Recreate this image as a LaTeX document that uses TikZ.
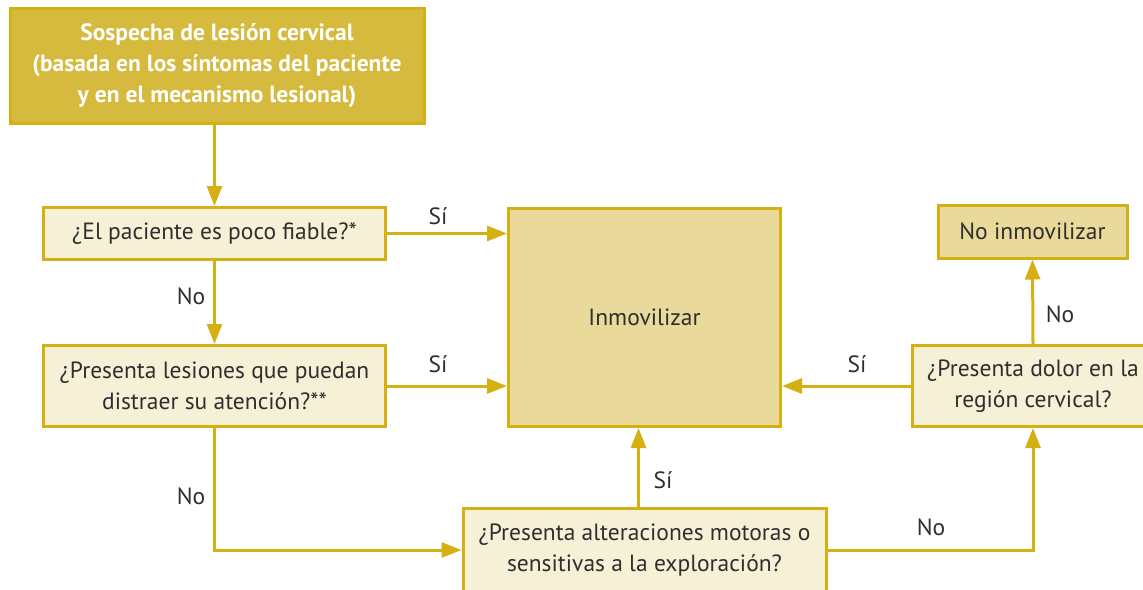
\documentclass[tikz,border=0pt]{standalone}
\usepackage{fontspec}
\setmainfont{PT Sans}
\usetikzlibrary{arrows.meta}
\definecolor{gold}{HTML}{D4B012}
\definecolor{topfill}{HTML}{D5BA3E}
\definecolor{lightfill}{HTML}{F6F0D6}
\definecolor{midfill}{HTML}{E9DA9C}
\definecolor{txt}{HTML}{2E2E2E}
\tikzset{
  box/.style={draw=gold, line width=3pt, inner sep=0pt, align=center, text=txt,
    font=\fontsize{23.5}{31}\selectfont},
  qbox/.style={box, fill=lightfill},
  arr/.style={draw=gold, line width=3pt, -{Triangle[length=20pt,width=15pt]}},
  lbl/.style={text=txt, font=\fontsize{23.5}{26}\selectfont, inner sep=0pt}
}
\begin{document}
\begin{tikzpicture}[x=1pt,y=-1pt]
\useasboundingbox (0,0) rectangle (1143,589);
\clip (0,0) rectangle (1143,589);
\node[box, fill=topfill, text=white, minimum width=414pt, minimum height=115pt,
  font=\bfseries\fontsize{23.5}{31}\selectfont] (top) at (217,65.5)
  {Sospecha de lesión cervical\\(basada en los síntomas del paciente\\y en el mecanismo lesional)};
\node[qbox, minimum width=342pt, minimum height=52pt] (q1) at (214.5,233.5) {¿El paciente es poco fiable?*};
\node[qbox, minimum width=342pt, minimum height=81pt] (q2) at (214.5,386) {¿Presenta lesiones que puedan\\distraer su atención?**};
\node[box, fill=midfill, minimum width=272pt, minimum height=218pt] (inm) at (644.5,317.5) {Inmovilizar};
\node[box, fill=midfill, minimum width=189pt, minimum height=53pt] (noinm) at (1032.5,231.5) {No inmovilizar};
\node[qbox, minimum width=242pt, minimum height=81pt] (q4) at (1033,386) {¿Presenta dolor en la\\región cervical?};
\node[qbox, minimum width=363pt, minimum height=84pt] (q3) at (644.5,550) {¿Presenta alteraciones motoras o\\sensitivas a la exploración?};

\draw[arr] (q1.north |- top.south) -- (q1.north);
\draw[arr] (q1.east) -- (q1.east -| inm.west);
\draw[arr] (q1.south) -- (q2.north);
\draw[arr] (q2.east) -- (q2.east -| inm.west);
\draw[arr] (q2.south) |- (q3.west);
\draw[arr] ([xshift=-6pt]q3.north) -- ([xshift=-6pt]q3.north |- inm.south);
\draw[arr] (q3.east) -| (q4.south);
\draw[arr] (q4.north) -- (noinm.south);
\draw[arr] (q4.west) -- (q4.west -| inm.east);

\node[lbl] (l1) at (438,216) {Sí};
\node[lbl] (l2) at (191,296) {No};
\node[lbl] (l3) at (438,364) {Sí};
\node[lbl] (l4) at (191,496) {No};
\node[lbl] (l5) at (663,480) {Sí};
\node[lbl] (l6) at (931,527) {No};
\node[lbl] (l7) at (857,364) {Sí};
\node[lbl] (l8) at (1060,314) {No};
\end{tikzpicture}
\end{document}
